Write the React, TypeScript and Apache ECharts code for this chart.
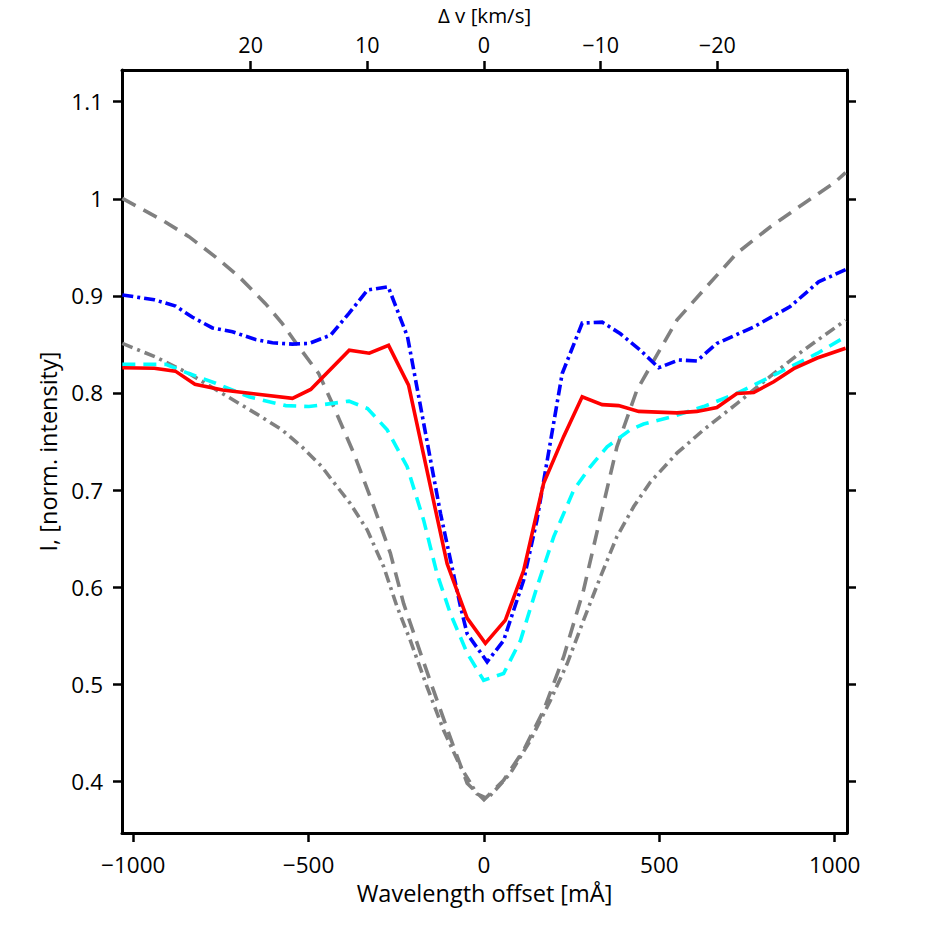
import React, { useEffect, useRef } from "react";
import * as echarts from "echarts";

// Wavelength offset [mÅ] and normalized intensity
const redSolid: [number, number][] = [
  [-1031, 0.826], [-940, 0.8255], [-880, 0.8225], [-824, 0.809], [-745, 0.803],
  [-651, 0.799], [-546, 0.7944], [-494, 0.8036], [-384, 0.844], [-327, 0.841],
  [-272, 0.849], [-215, 0.808], [-105, 0.624], [-48, 0.568], [4, 0.542],
  [61, 0.566], [113, 0.617], [170, 0.707], [227, 0.755], [280, 0.796],
  [337, 0.788], [384, 0.787], [441, 0.781], [550, 0.7795], [607, 0.781],
  [664, 0.785], [721, 0.7995], [769, 0.8005], [826, 0.8115], [883, 0.825],
  [950, 0.836], [1031, 0.846],
];

const blueDashDot: [number, number][] = [
  [-1031, 0.901], [-940, 0.896], [-879, 0.8895], [-831, 0.878], [-774, 0.867],
  [-717, 0.863], [-651, 0.855], [-603, 0.8517], [-546, 0.8503], [-499, 0.851],
  [-437, 0.8596], [-385, 0.882], [-332, 0.906], [-273, 0.9094], [-218, 0.858],
  [-124, 0.676], [-67, 0.58], [-48, 0.552], [9, 0.523], [56, 0.545],
  [113, 0.607], [151, 0.669], [223, 0.82], [280, 0.872], [337, 0.873],
  [389, 0.861], [446, 0.844], [498, 0.826], [555, 0.834], [607, 0.833],
  [664, 0.851], [769, 0.868], [873, 0.889], [954, 0.9145], [1031, 0.927],
];

const cyanDashed: [number, number][] = [
  [-1031, 0.8294], [-907, 0.8294], [-841, 0.82], [-765, 0.81], [-670, 0.796],
  [-565, 0.787], [-499, 0.786], [-385, 0.7916], [-332, 0.784], [-276, 0.762],
  [-219, 0.724], [-172, 0.669], [-134, 0.614], [-96, 0.573], [-48, 0.532],
  [-1, 0.504], [56, 0.511], [104, 0.545], [151, 0.6], [199, 0.652],
  [256, 0.7], [303, 0.724], [351, 0.7445], [417, 0.762], [455, 0.768],
  [531, 0.775], [626, 0.786], [721, 0.7995], [769, 0.808], [835, 0.82],
  [950, 0.8407], [1031, 0.858],
];

const grayDashed: [number, number][] = [
  [-1031, 1.0004], [-917, 0.978], [-841, 0.961], [-765, 0.94], [-699, 0.92],
  [-623, 0.892], [-576, 0.872], [-528, 0.8475], [-471, 0.82], [-431, 0.788],
  [-371, 0.7377], [-314, 0.683], [-267, 0.635], [-229, 0.583], [-181, 0.532],
  [-134, 0.4835], [-86, 0.435], [-48, 0.398], [0, 0.381], [56, 0.401],
  [113, 0.432], [170, 0.473], [227, 0.528], [284, 0.597], [332, 0.672],
  [379, 0.7445], [436, 0.803], [474, 0.827], [550, 0.875], [626, 0.906],
  [721, 0.944], [816, 0.971], [911, 0.995], [997, 1.016], [1031, 1.027],
];

const grayDashDot: [number, number][] = [
  [-1031, 0.851], [-936, 0.837], [-841, 0.82], [-746, 0.7995], [-651, 0.779],
  [-576, 0.762], [-519, 0.7445], [-462, 0.724], [-435, 0.711], [-381, 0.686],
  [-333, 0.659], [-286, 0.621], [-248, 0.58], [-210, 0.545], [-162, 0.497],
  [-115, 0.4525], [-67, 0.415], [-20, 0.387], [10, 0.382], [75, 0.408],
  [132, 0.442], [189, 0.483], [237, 0.521], [284, 0.566], [332, 0.6105],
  [379, 0.652], [427, 0.683], [474, 0.708], [550, 0.738], [626, 0.762],
  [721, 0.789], [816, 0.817], [911, 0.844], [1031, 0.875],
];

const bottomTicks = [-1000, -500, 0, 500, 1000];
const leftTicks = [0.4, 0.5, 0.6, 0.7, 0.8, 0.9, 1.0, 1.1];
const topTickVelocities = [20, 10, 0, -10, -20];
const MA_PER_KMS = 33.26; // mÅ per km/s

const X_MIN = -1032;
const X_MAX = 1035;
const Y_MIN = 0.3467;
const Y_MAX = 1.1327;

const FONT = "Open Sans";
const minus = (v: number) => (v < 0 ? "\u2212" + Math.abs(v) : String(v));

export default function App() {
  const ref = useRef<HTMLDivElement>(null);
  useEffect(() => {
    if (!ref.current) return;
    const chart = echarts.init(ref.current, undefined, { renderer: "svg" });
    const axisLine = { show: true, onZero: false, lineStyle: { color: "#000", width: 3 } };
    const axisTickBase = { show: true, length: 9, lineStyle: { color: "#000", width: 2.5 } };
    const labelBase = { color: "#000", fontFamily: FONT, fontSize: 22.5, lineHeight: 22 };
    const nameStyle = { color: "#000", fontFamily: FONT, fontSize: 23.5, lineHeight: 23 };
    const topValues = topTickVelocities.map((v) => -v * MA_PER_KMS);

    const line = (data: [number, number][], color: string, type: any) => ({
      type: "line",
      data,
      xAxisIndex: 0,
      yAxisIndex: 0,
      showSymbol: false,
      symbol: "none",
      clip: true,
      lineStyle: { color, width: 3.6, type, cap: "butt", join: "miter" },
      z: 2,
    });

    chart.setOption({
      animation: false,
      backgroundColor: "#fff",
      grid: {
        left: 122,
        top: 70,
        right: 91,
        bottom: 105,
        containLabel: false,
        outerBoundsMode: "none",
      },
      xAxis: [
        {
          type: "value",
          position: "bottom",
          min: X_MIN,
          max: X_MAX,
          name: "Wavelength offset [mÅ]",
          nameLocation: "middle",
          nameGap: 48,
          nameTextStyle: nameStyle,
          axisLine,
          axisTick: { ...axisTickBase, customValues: bottomTicks },
          axisLabel: { ...labelBase, margin: 20, customValues: bottomTicks, formatter: (v: number) => minus(v) },
          splitLine: { show: false },
        },
        {
          type: "value",
          position: "top",
          min: X_MIN,
          max: X_MAX,
          name: "\u0394 v [km/s]",
          nameLocation: "middle",
          nameGap: 45,
          nameTextStyle: { ...nameStyle, fontSize: 20.5, lineHeight: 21 },
          axisLine,
          axisTick: { ...axisTickBase, customValues: topValues },
          axisLabel: {
            ...labelBase,
            fontSize: 21.5,
            lineHeight: 21,
            margin: 15,
            customValues: topValues,
            formatter: (v: number) => minus(Math.round(-v / MA_PER_KMS) + 0),
          },
          splitLine: { show: false },
        },
      ],
      yAxis: [
        {
          type: "value",
          position: "left",
          min: Y_MIN,
          max: Y_MAX,
          name: "I, [norm. intensity]",
          nameLocation: "middle",
          nameGap: 60,
          nameTextStyle: nameStyle,
          axisLine,
          axisTick: { ...axisTickBase, customValues: leftTicks },
          axisLabel: {
            ...labelBase,
            margin: 19,
            customValues: leftTicks,
            formatter: (v: number) => String(Math.round(v * 10) / 10),
          },
          splitLine: { show: false },
        },
        {
          type: "value",
          position: "right",
          min: Y_MIN,
          max: Y_MAX,
          axisLine,
          axisTick: { ...axisTickBase, customValues: leftTicks },
          axisLabel: { show: false, customValues: leftTicks },
          splitLine: { show: false },
        },
      ],
      series: [
        line(grayDashed, "#808080", [15, 9]),
        line(grayDashDot, "#808080", [11, 5, 3, 5]),
        line(cyanDashed, "#00ffff", [13, 8]),
        line(blueDashDot, "#0000ff", [11, 4, 3, 4]),
        line(redSolid, "#ff0000", "solid"),
      ],
    });
    return () => chart.dispose();
  }, []);
  return <div ref={ref} style={{ width: 938, height: 938, position: "absolute", left: 0, top: 0 }} />;
}
